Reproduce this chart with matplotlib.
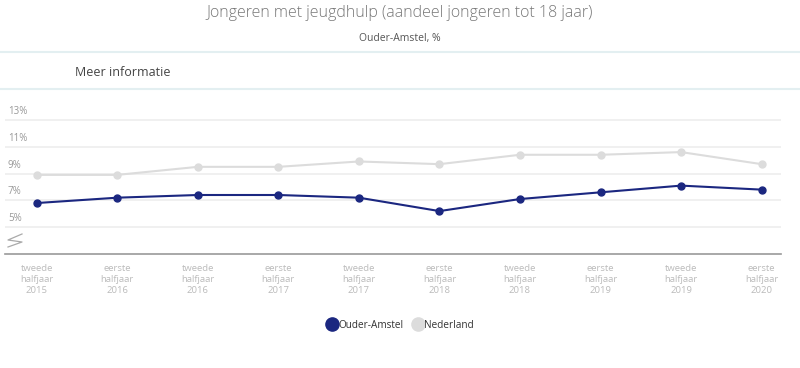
import matplotlib
matplotlib.use("Agg")
import matplotlib.pyplot as plt
from matplotlib.lines import Line2D

plt.rcParams['font.family'] = ['Open Sans', 'DejaVu Sans']

categories = ["tweede\nhalfjaar\n2015", "eerste\nhalfjaar\n2016", "tweede\nhalfjaar\n2016",
              "eerste\nhalfjaar\n2017", "tweede\nhalfjaar\n2017", "eerste\nhalfjaar\n2018",
              "tweede\nhalfjaar\n2018", "eerste\nhalfjaar\n2019", "tweede\nhalfjaar\n2019",
              "eerste\nhalfjaar\n2020"]
ouder_amstel = [6.8, 7.2, 7.4, 7.4, 7.2, 6.2, 7.1, 7.6, 8.1, 7.8]
nederland = [8.9, 8.9, 9.5, 9.5, 9.9, 9.7, 10.4, 10.4, 10.6, 9.7]
yticks = [5, 7, 9, 11, 13]
ytick_labels = ["5%", "7%", "9%", "11%", "13%"]

NAVY = '#1b2780'
GREY = '#dcdcdc'

W, H = 800, 368
fig = plt.figure(figsize=(W / 100, H / 100), dpi=100)

# header
fig.text(0.5, 1 - 13 / H, "Jongeren met jeugdhulp (aandeel jongeren tot 18 jaar)",
         ha='center', va='center', fontsize=11.5, color='#777777', fontweight='light')
fig.text(0.5, 1 - 38 / H, "Ouder-Amstel, %", ha='center', va='center', fontsize=7.5, color='#555555')
fig.add_artist(Line2D([0, 1], [1 - 52 / H] * 2, color='#e3eff1', lw=1.5, transform=fig.transFigure))
fig.add_artist(Line2D([0, 1], [1 - 89 / H] * 2, color='#e3eff1', lw=1.5, transform=fig.transFigure))
fig.text(75 / W, 1 - 72 / H, "Meer informatie", ha='left', va='center', fontsize=9, color='#444444')

# axes
left, right = 5, 781
bottom_px, top_px = 254, 106.5
ax = fig.add_axes([left / W, 1 - bottom_px / H, (right - left) / W, (bottom_px - top_px) / H])
ax.set_xlim(-0.393, 9.24)
ax.set_ylim(3, 14)

for y, lab in zip(yticks, ytick_labels):
    ax.axhline(y, color='#eeeeee', lw=1.2, zorder=0)
    ax.text(3 / (right - left), y + 0.22, lab, transform=ax.get_yaxis_transform(),
            ha='left', va='bottom', fontsize=7, color='#999999')

x = list(range(len(categories)))
ax.plot(x, nederland, color=GREY, lw=1.5, marker='o', ms=5, zorder=2)
ax.plot(x, ouder_amstel, color=NAVY, lw=1.5, marker='o', ms=5, zorder=3)

for s in ['top', 'right', 'left']:
    ax.spines[s].set_visible(False)
ax.spines['bottom'].set_color('#999999')
ax.spines['bottom'].set_linewidth(1.2)
ax.set_yticks([])
ax.set_xticks(x)
ax.set_xticklabels(categories, fontsize=6.8, color='#bbbbbb', linespacing=1.3)
ax.tick_params(axis='x', length=0, pad=7)

# axis break symbol
bx = [22, 8, 22, 8]
by = [234, 240, 242, 247]
fig.add_artist(Line2D([v / W for v in bx], [1 - v / H for v in by], color='#aaaaaa', lw=0.9,
                      transform=fig.transFigure))

handles = [Line2D([], [], color=NAVY, marker='o', ls='none', ms=9.5),
           Line2D([], [], color=GREY, marker='o', ls='none', ms=9.5)]
leg = fig.legend(handles, ["Ouder-Amstel", "Nederland"], loc='center', bbox_to_anchor=(0.5, 1 - 325 / H),
                 ncol=2, frameon=False, fontsize=7.2, handletextpad=0.05, columnspacing=0.8,
                 handlelength=1.2)
for t in leg.get_texts():
    t.set_color('#333333')

fig.savefig("out.png", dpi=100, facecolor='white')
